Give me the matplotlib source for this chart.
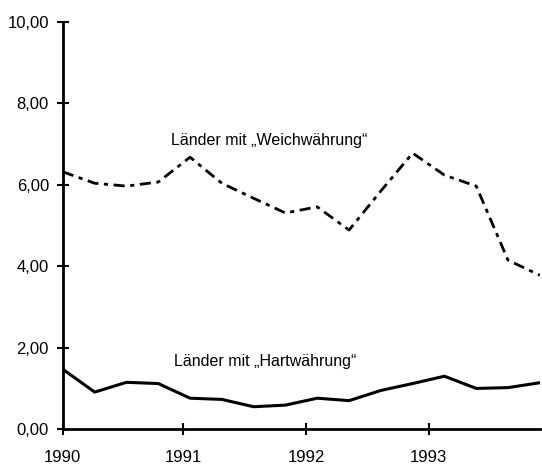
import matplotlib
matplotlib.use("Agg")
import matplotlib.pyplot as plt

plt.rcParams['font.family'] = ['Liberation Sans', 'DejaVu Sans']

# quarterly observations, 1990 Q1 .. 1993 Q4
quarter = list(range(16))
weich = [6.32, 6.04, 5.97, 6.07, 6.68, 6.04, 5.67, 5.31,
         5.46, 4.89, 5.85, 6.78, 6.24, 5.97, 4.15, 3.78]
hart = [1.47, 0.91, 1.15, 1.12, 0.76, 0.73, 0.55, 0.59,
        0.76, 0.70, 0.95, 1.12, 1.30, 1.00, 1.02, 1.14]

year_labels = ['1990', '1991', '1992', '1993']
year_pos = [0, 3.78, 7.66, 11.5]
y_ticks = [0, 2, 4, 6, 8, 10]
y_labels = ['0,00', '2,00', '4,00', '6,00', '8,00', '10,00']

fig = plt.figure(figsize=(5.42, 4.69), dpi=100)
ax = fig.add_axes([0.116, 0.085, 0.88, 0.868])

ax.plot(quarter, weich, color='black', lw=2.0, linestyle=(0, (4, 2, 1.5, 2)))
ax.plot(quarter, hart, color='black', lw=2.2)

ax.text(3.4, 7.08, 'Länder mit \u201eWeichwährung\u201c', fontsize=11.5, va='center')
ax.text(3.5, 1.65, 'Länder mit \u201eHartwährung\u201c', fontsize=11.5, va='center')

ax.set_xlim(0, 15)
ax.set_ylim(0, 10)
ax.set_xticks(year_pos)
ax.set_xticklabels(year_labels, fontsize=12)
ax.set_yticks(y_ticks)
ax.set_yticklabels(y_labels, fontsize=12)

for s in ['top', 'right']:
    ax.spines[s].set_visible(False)
for s in ['left', 'bottom']:
    ax.spines[s].set_linewidth(2)
ax.tick_params(axis='both', direction='inout', length=8, width=1.5)
ax.tick_params(axis='x', pad=11)
ax.tick_params(axis='y', pad=6)

fig.savefig('out.png', dpi=100)
